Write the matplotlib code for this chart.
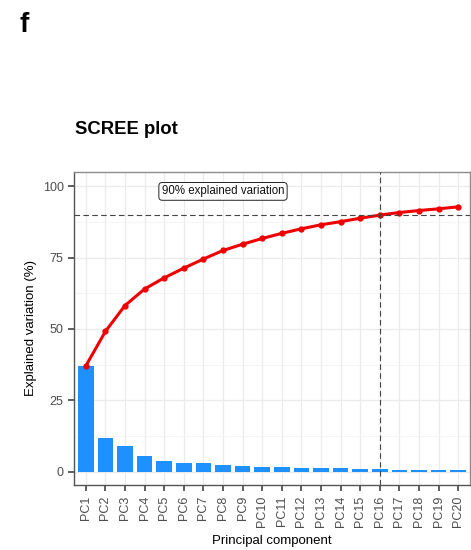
import numpy as np
import matplotlib.pyplot as plt
from matplotlib.ticker import MultipleLocator

plt.rcParams['font.family'] = ['Liberation Sans', 'DejaVu Sans']

components = [f"PC{i}" for i in range(1, 21)]
explained = [37.0, 11.8, 8.9, 5.6, 3.8, 3.0, 2.9, 2.4, 1.8, 1.7,
             1.5, 1.4, 1.2, 1.1, 1.0, 0.9, 0.6, 0.6, 0.5, 0.5]
cumulative = [37.0, 49.1, 58.2, 64.0, 67.9, 71.3, 74.5, 77.5, 79.7, 81.7,
              83.5, 85.1, 86.5, 87.6, 88.8, 89.9, 90.8, 91.5, 92.1, 92.8]
y_ticks = [0, 25, 50, 75, 100]
cutoff = 90
cutoff_pc = "PC16"

fig = plt.figure(figsize=(4.71, 5.5), dpi=100)
ax = fig.add_axes([74 / 471, 65 / 550, 396 / 471, 313 / 550])

x = np.arange(1, len(components) + 1)
ax.bar(x, explained, width=0.8, color="#1E90FF", zorder=2)
ax.plot(x, cumulative, color="#EE0000", lw=2.2, marker="o", ms=3.5, zorder=3)

ax.axhline(cutoff, color="#444444", lw=0.8, ls=(0, (5, 3)), zorder=4)
ax.axvline(components.index(cutoff_pc) + 1, color="#444444", lw=0.8,
           ls=(0, (5, 3)), zorder=4)
ax.text(8, 98.2, "90% explained variation", fontsize=8.3, ha="center",
        va="center", color="#111111", zorder=5,
        bbox=dict(boxstyle="round,pad=0.25,rounding_size=0.3", fc="white",
                  ec="#222222", lw=0.7))

ax.set_xlim(0.4, 20.6)
ax.set_ylim(-4.7, 105)
ax.set_xticks(x)
ax.set_xticklabels(components, rotation=90, fontsize=9, color="#4D4D4D")
ax.set_yticks(y_ticks)
ax.set_yticklabels([str(v) for v in y_ticks], fontsize=9, color="#4D4D4D")
ax.yaxis.set_minor_locator(MultipleLocator(12.5))
ax.tick_params(axis="both", which="major", length=4.5, width=1.1, color="#333333", pad=3)
ax.tick_params(axis="y", which="minor", length=0)

ax.grid(True, which="major", color="#EBEBEB", lw=0.9, zorder=0)
ax.grid(True, which="minor", axis="y", color="#F2F2F2", lw=0.6, zorder=0)
ax.set_axisbelow(True)
for side in ["top", "right"]:
    ax.spines[side].set_color("#8C8C8C")
    ax.spines[side].set_linewidth(1.0)
for side in ["left", "bottom"]:
    ax.spines[side].set_color("#555555")
    ax.spines[side].set_linewidth(1.0)

ax.set_xlabel("Principal component", fontsize=9.5, labelpad=6)
ax.set_ylabel("Explained variation (%)", fontsize=9.5, labelpad=4)

fig.text(75 / 471, 1 - 129 / 550, "SCREE plot", fontsize=13.3,
         fontweight="bold", va="center", ha="left")
fig.text(20 / 471, 1 - 25 / 550, "f", fontsize=20, fontweight="bold",
         va="center", ha="left")

fig.savefig("out.png", dpi=100)
